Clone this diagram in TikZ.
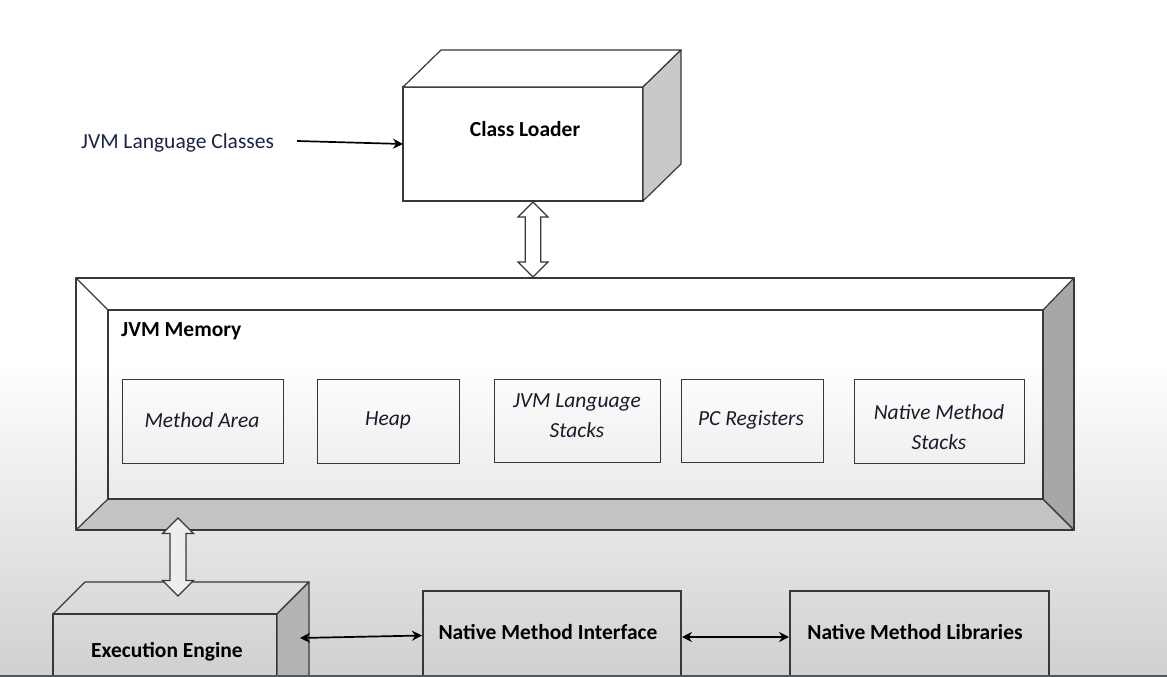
\documentclass[tikz,border=0pt]{standalone}
\usepackage{fontspec}
\setmainfont{Carlito}
\usetikzlibrary{arrows.meta,calc}
\definecolor{edge}{HTML}{383838}
\definecolor{bgbot}{HTML}{D0D0D0}
\definecolor{sideA}{HTML}{C9C9C9}
\definecolor{sideB}{HTML}{B4B4B4}
\definecolor{bandB}{HTML}{C3C3C3}
\definecolor{bandR}{HTML}{A7A7A7}
\definecolor{txt}{HTML}{1A1A2A}
\definecolor{navy}{HTML}{1C2348}
\definecolor{bline}{HTML}{4C5760}
\newcommand\hollowarr[5]{%
  \draw[hollow=#5] let \p1=(#1), \p2=(#2) in
    (\p1) -- (\x1+#3pt,\y1-#3pt) -- (\x1+#4pt,\y1-#3pt) -- (\x2+#4pt,\y2+#3pt)
    -- (\x2+#3pt,\y2+#3pt) -- (\p2) -- (\x2-#3pt,\y2+#3pt) -- (\x2-#4pt,\y2+#3pt)
    -- (\x1-#4pt,\y1-#3pt) -- (\x1-#3pt,\y1-#3pt) -- cycle;}
\tikzset{
  face/.style={draw=edge, line width=1.2pt, line join=round},
  blk/.style={inner sep=0pt, outer sep=0pt, draw=edge, line width=1.2pt},
  inbox/.style={inner sep=0pt, outer sep=0pt, draw=edge, line width=1pt},
  lbl/.style={font=\fontsize{21.5}{30}\selectfont\bfseries, text=black, inner sep=0pt},
  itl/.style={font=\fontsize{21.5}{30}\selectfont\itshape, text=txt, align=center, inner sep=0pt},
  reg/.style={font=\fontsize{21.5}{30}\selectfont, text=navy, inner sep=0pt},
  hollow/.style={draw=edge, line width=1.2pt, fill=#1, line join=miter},
  conn/.style={line width=1.7pt, black},
  tip/.style={Stealth[length=10pt, width=10pt]}
}
\begin{document}
\begin{tikzpicture}[x=1pt, y=-1pt]
\useasboundingbox (0,0) rectangle (1167,677);
\clip (0,0) rectangle (1167,677);
\fill[white] (0,0) rectangle (1167,677);
\shade[top color=white, bottom color=bgbot] (0,360) rectangle (1167,677);

% Class Loader
\node[blk, minimum width=240, minimum height=114] (cl) at (523,144) {};
\draw[face, fill=white] (cl.north west) -- ++(38,-37) -- ++(240,0) -- (cl.north east) -- cycle;
\draw[face, fill=sideA] (cl.north east) -- ++(38,-37) -- ++(0,114) -- (cl.south east) -- cycle;
\node[lbl] (cltxt) at (525,129) {Class Loader};

% left label
\node[reg, anchor=west] (jlc) at (81,143) {JVM Language Classes};
\draw[conn, -{Stealth[length=10pt, width=10pt]}] ($(jlc.east)+(23,-2)$) -- (cl.west);

% JVM Memory frame
\node[inner sep=0pt, outer sep=0pt, minimum width=998, minimum height=252] (mem) at (575,404) {};
\node[inner sep=0pt, outer sep=0pt, minimum width=935, minimum height=189] (memin) at (575.5,404.5) {};
\draw[face, fill=bandB] (mem.south west) -- (memin.south west) -- (memin.south east) -- (mem.south east) -- cycle;
\draw[face, fill=bandR] (mem.north east) -- (memin.north east) -- (memin.south east) -- (mem.south east) -- cycle;
\draw[face] (mem.north west) -- (memin.north west);
\draw[face] (mem.north west) rectangle (mem.south east);
\draw[face] (memin.north west) rectangle (memin.south east);
\node[lbl, anchor=west] (memtxt) at (121,331) {JVM Memory};

% inner areas
\node[inbox, minimum width=161, minimum height=84] (ma) at (202.5,421) {};
\node[itl] (matxt) at (202,420) {Method Area};
\node[inbox, minimum width=142, minimum height=84] (hp) at (388,421) {};
\node[itl] (hptxt) at (388,420) {Heap};
\node[inbox, minimum width=166, minimum height=83] (jls) at (577,420.5) {};
\node[itl] (jlstxt) at (577,416) {JVM Language\\Stacks};
\node[inbox, minimum width=142, minimum height=83] (pc) at (752,420.5) {};
\node[itl] (pctxt) at (751,420) {PC Registers};
\node[inbox, minimum width=170, minimum height=84] (nms) at (939,421) {};
\node[itl] (nmstxt) at (939,427) {Native Method\\Stacks};

% hollow double arrows
\hollowarr{$(cl.south)+(10,1)$}{$(mem.north)+(-42,-1)$}{15}{7.7}{white}

% Execution Engine
\node[blk, minimum width=224, minimum height=90] (ee) at (165,659) {};
\draw[face] (ee.north west) -- ++(32,-32) -- ++(224,0) -- (ee.north east) -- cycle;
\draw[face, fill=sideB] (ee.north east) -- ++(32,-32) -- ++(0,120) -- (ee.south east) -- cycle;
\node[lbl] (eetxt) at (167,652) {Execution Engine};

\hollowarr{$(mem.south west)+(102,-12)$}{$(ee.north west)+(125,-18)$}{15.5}{8}{black!7}

% Native method boxes
\node[blk, minimum width=258, minimum height=110] (nmi) at (552,646) {};
\node[lbl] (nmitxt) at (548,632) {Native Method Interface};
\node[blk, minimum width=259, minimum height=110] (nml) at (919.5,646) {};
\node[lbl] (nmltxt) at (915,632) {Native Method Libraries};

% connectors
\coordinate (eeR) at (300,638);
\draw[conn, {Stealth[length=10pt, width=10pt]}-{Stealth[length=10pt, width=10pt]}] (eeR) -- ($(nmi.west)+(-1,-10.5)$);
\draw[conn, {Stealth[length=10pt, width=10pt]}-{Stealth[length=10pt, width=10pt]}] ($(nmi.east)+(1,-9)$) -- ($(nml.west)+(-1,-9)$);

% bottom edge line
\fill[bline] (0,674.5) rectangle (1167,677);
\end{tikzpicture}
\end{document}
